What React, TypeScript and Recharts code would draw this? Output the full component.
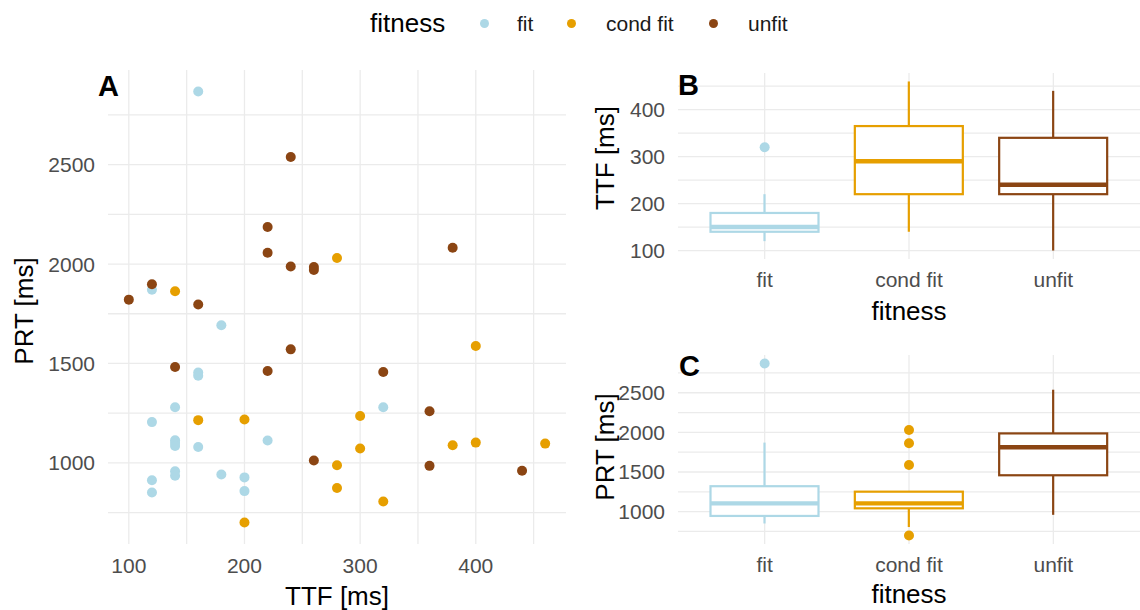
import React from "react";
import {
  ScatterChart,
  ComposedChart,
  Scatter,
  Bar,
  XAxis,
  YAxis,
  CartesianGrid,
} from "recharts";

// groups + colours
const groups = ["fit", "cond fit", "unfit"];
const groupColors = ["#ADD8E6", "#E69F00", "#8B4513"];

// panel A raw points (TTF / PRT in ms)
const fitTTF = [160, 120, 180, 160, 160, 140, 120, 140, 140, 140, 160, 220, 120, 120, 140, 140, 180, 200, 200, 320];
const fitPRT = [2868, 1871, 1692, 1455, 1438, 1280, 1205, 1114, 1100, 1085, 1080, 1113, 913, 851, 958, 935, 942, 927, 858, 1280];

const condTTF = [140, 280, 160, 200, 200, 400, 300, 300, 280, 280, 320, 380, 400, 460];
const condPRT = [1863, 2030, 1215, 1218, 700, 1588, 1236, 1072, 988, 874, 806, 1089, 1102, 1097];

const unfitTTF = [240, 220, 220, 240, 100, 120, 160, 260, 260, 380, 140, 220, 240, 320, 360, 260, 360, 440];
const unfitPRT = [2538, 2186, 2057, 1988, 1821, 1898, 1797, 1985, 1970, 2082, 1482, 1462, 1571, 1457, 1260, 1012, 985, 960];

// panel B box stats (TTF), order: fit, cond fit, unfit
const ttfMin = [120, 140, 100];
const ttfQ1 = [140, 220, 220];
const ttfMedian = [150, 290, 240];
const ttfQ3 = [180, 365, 340];
const ttfMax = [220, 460, 440];
const ttfOutlierGroup = ["fit"];
const ttfOutlierValue = [320];

// panel C box stats (PRT)
const prtMin = [851, 806, 960];
const prtQ1 = [946, 1042, 1459];
const prtMedian = [1105, 1105, 1812];
const prtQ3 = [1321, 1252, 1987];
const prtMax = [1871, 1252, 2538];
const prtOutlierGroup = ["fit", "cond fit", "cond fit", "cond fit", "cond fit"];
const prtOutlierValue = [2868, 2030, 1863, 1588, 700];

// axis ticks (major + minor, minor left unlabeled)
const ttfTicks = [100, 150, 200, 250, 300, 350, 400, 450];
const prtTicks = [750, 1000, 1250, 1500, 1750, 2000, 2250, 2500, 2750];

const FONT = "'Liberation Sans', Arial, Helvetica, sans-serif";
const GRID = "#EBEBEB";
const TICK = { fill: "#4D4D4D", fontSize: 21 };

const toPoints = (xs: number[], ys: number[]) => xs.map((x, i) => ({ ttf: x, prt: ys[i] }));

const boxRows = (mins: number[], q1: number[], med: number[], q3: number[], maxs: number[]) =>
  groups.map((g, i) => ({
    fitness: g,
    min: mins[i],
    q1: q1[i],
    median: med[i],
    q3: q3[i],
    max: maxs[i],
    color: groupColors[i],
  }));

const outlierRows = (gs: string[], vs: number[]) =>
  gs.map((g, i) => ({ fitness: g, v: vs[i], color: groupColors[groups.indexOf(g)] }));

const ttfBoxes = boxRows(ttfMin, ttfQ1, ttfMedian, ttfQ3, ttfMax);
const prtBoxes = boxRows(prtMin, prtQ1, prtMedian, prtQ3, prtMax);
const ttfOutliers = outlierRows(ttfOutlierGroup, ttfOutlierValue);
const prtOutliers = outlierRows(prtOutlierGroup, prtOutlierValue);

const every = (step: number) => (v: number) => (v % step === 0 ? String(v) : "");

// box drawn inside the [min, max] range bar
function BoxShape(props: any) {
  const { x, y, width, height, payload } = props;
  if (!payload) return null;
  const ppu = height / (payload.max - payload.min);
  const py = (v: number) => y + (payload.max - v) * ppu;
  const cx = x + width / 2;
  const c = payload.color;
  return (
    <g>
      <line x1={cx} x2={cx} y1={py(payload.max)} y2={py(payload.q3)} stroke={c} strokeWidth={2.2} />
      <line x1={cx} x2={cx} y1={py(payload.q1)} y2={py(payload.min)} stroke={c} strokeWidth={2.2} />
      <rect
        x={x}
        y={py(payload.q3)}
        width={width}
        height={py(payload.q1) - py(payload.q3)}
        fill="#fff"
        stroke={c}
        strokeWidth={2.2}
      />
      <line x1={x} x2={x + width} y1={py(payload.median)} y2={py(payload.median)} stroke={c} strokeWidth={4.4} />
    </g>
  );
}

const dot = (color: string) => (p: any) => <circle cx={p.cx} cy={p.cy} r={5} fill={color} />;
const outlierDot = (p: any) => <circle cx={p.cx} cy={p.cy} r={5} fill={p.payload.color} />;

function Txt({ x, y, size, children, anchor = "middle", rotate = false, bold = false, color = "#000" }: any) {
  const tx = anchor === "middle" ? "-50%" : "0";
  return (
    <div
      style={{
        position: "absolute",
        left: x,
        top: y,
        transform: `translate(${tx}, -50%)${rotate ? " rotate(-90deg)" : ""}`,
        fontSize: size,
        fontWeight: bold ? 700 : 400,
        lineHeight: 1,
        whiteSpace: "nowrap",
        color,
      }}
    >
      {children}
    </div>
  );
}

function LegendDot({ x, color }: { x: number; color: string }) {
  return (
    <div
      style={{
        position: "absolute",
        left: x - 4.5,
        top: 23 - 4.5,
        width: 9,
        height: 9,
        borderRadius: "50%",
        background: color,
      }}
    />
  );
}

function BoxPanel({ data, outliers, domain, ticks, step, top, height, marginTop, axisHeight }: any) {
  return (
    <div style={{ position: "absolute", left: 600, top }}>
      <ComposedChart width={540} height={height} data={data} margin={{ top: marginTop, right: 0, bottom: 0, left: 0 }}>
        <CartesianGrid stroke={GRID} strokeWidth={1.3} syncWithTicks />
        <XAxis
          dataKey="fitness"
          type="category"
          allowDuplicatedCategory={false}
          padding={{ left: 14.5, right: 14.5 }}
          height={axisHeight}
          axisLine={false}
          tickLine={false}
          tickSize={0}
          tickMargin={13}
          tick={TICK}
          interval={0}
        />
        <YAxis
          type="number"
          domain={domain}
          ticks={ticks}
          allowDataOverflow
          width={78}
          axisLine={false}
          tickLine={false}
          tickSize={0}
          tickMargin={13}
          tick={TICK}
          interval={0}
          tickFormatter={every(step)}
        />
        <Bar dataKey={(d: any) => [d.min, d.max]} barSize={108} shape={BoxShape} isAnimationActive={false} />
        <Scatter data={outliers} dataKey="v" shape={outlierDot} isAnimationActive={false} />
      </ComposedChart>
    </div>
  );
}

export default function App() {
  const series = [toPoints(fitTTF, fitPRT), toPoints(condTTF, condPRT), toPoints(unfitTTF, unfitPRT)];
  return (
    <div
      style={{
        position: "absolute",
        left: 0,
        top: 0,
        width: 1140,
        height: 610,
        background: "#fff",
        fontFamily: FONT,
        overflow: "hidden",
      }}
    >
      {/* A: scatter */}
      <div style={{ position: "absolute", left: 0, top: 0 }}>
        <ScatterChart width={580} height={610} margin={{ top: 70, right: 14, bottom: 0, left: 0 }}>
          <CartesianGrid stroke={GRID} strokeWidth={1.3} syncWithTicks />
          <XAxis
            type="number"
            dataKey="ttf"
            domain={[82, 478]}
            ticks={ttfTicks}
            allowDataOverflow
            height={66}
            axisLine={false}
            tickLine={false}
            tickSize={0}
            tickMargin={14}
            tick={TICK}
            interval={0}
            tickFormatter={every(100)}
          />
          <YAxis
            type="number"
            dataKey="prt"
            domain={[592, 2976]}
            ticks={prtTicks}
            allowDataOverflow
            width={108}
            axisLine={false}
            tickLine={false}
            tickSize={0}
            tickMargin={13}
            tick={TICK}
            interval={0}
            tickFormatter={every(500)}
          />
          {series.map((pts, i) => (
            <Scatter key={groups[i]} data={pts} fill={groupColors[i]} shape={dot(groupColors[i])} isAnimationActive={false} />
          ))}
        </ScatterChart>
      </div>

      {/* B: TTF boxplot */}
      <BoxPanel data={ttfBoxes} outliers={ttfOutliers} domain={[82, 478]} ticks={ttfTicks} step={100}
        top={0} height={300} marginTop={73} axisHeight={41} />

      {/* C: PRT boxplot */}
      <BoxPanel data={prtBoxes} outliers={prtOutliers} domain={[592, 2976]} ticks={prtTicks} step={500}
        top={300} height={310} marginTop={55} axisHeight={66} />

      {/* legend */}
      <Txt x={370} y={23} size={26} anchor="start">fitness</Txt>
      <LegendDot x={484} color={groupColors[0]} />
      <Txt x={517} y={23} size={21} anchor="start" color="#1A1A1A">fit</Txt>
      <LegendDot x={571} color={groupColors[1]} />
      <Txt x={606} y={23} size={21} anchor="start" color="#1A1A1A">cond fit</Txt>
      <LegendDot x={713} color={groupColors[2]} />
      <Txt x={748} y={23} size={21} anchor="start" color="#1A1A1A">unfit</Txt>

      {/* panel tags */}
      <Txt x={98} y={86} size={29} anchor="start" bold>A</Txt>
      <Txt x={678} y={85} size={29} anchor="start" bold>B</Txt>
      <Txt x={679} y={366} size={29} anchor="start" bold>C</Txt>

      {/* axis titles */}
      <Txt x={337} y={596} size={26}>TTF [ms]</Txt>
      <Txt x={24} y={311} size={26} rotate>PRT [ms]</Txt>
      <Txt x={909} y={311} size={26}>fitness</Txt>
      <Txt x={605} y={158} size={26} rotate>TTF [ms]</Txt>
      <Txt x={909} y={594} size={26}>fitness</Txt>
      <Txt x={605} y={447} size={26} rotate>PRT [ms]</Txt>
    </div>
  );
}
